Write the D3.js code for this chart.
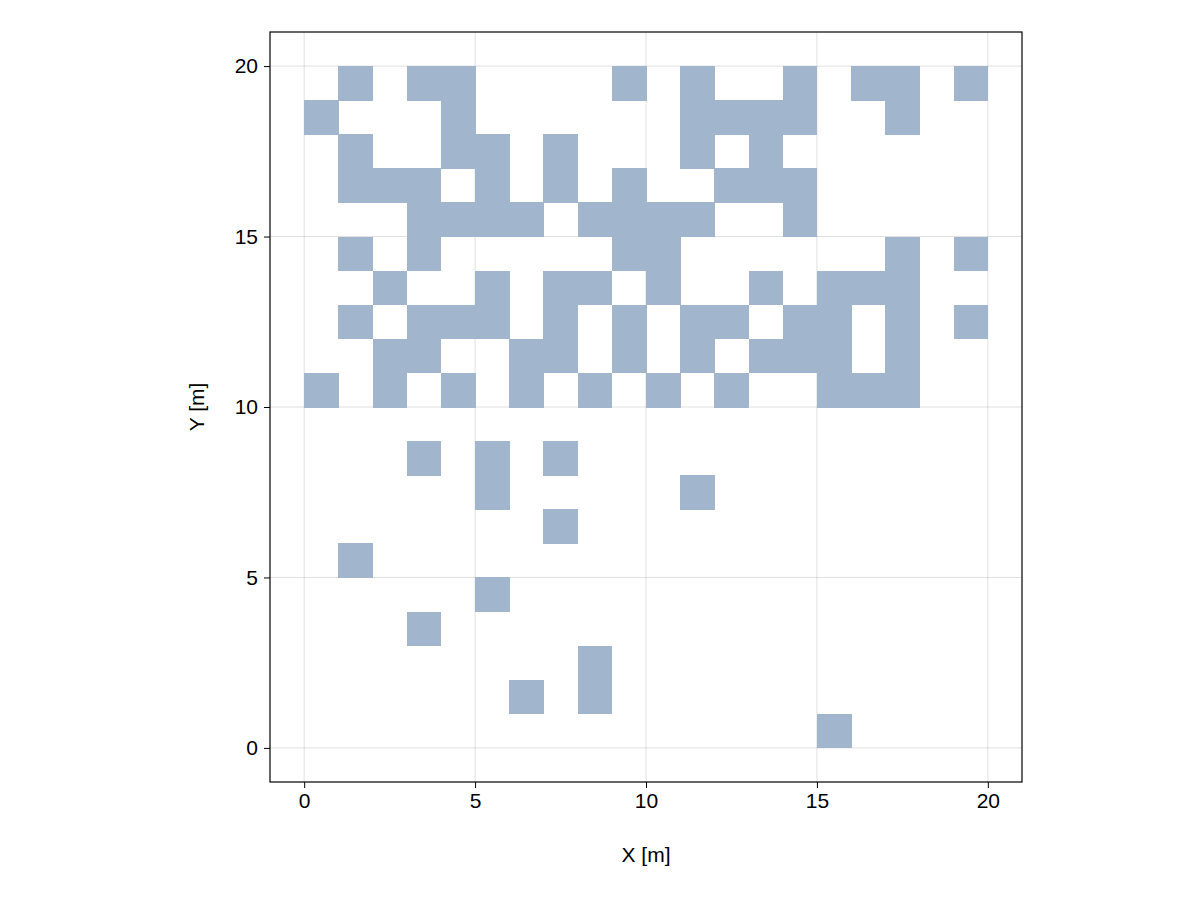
<!DOCTYPE html>
<html>
<head>
<meta charset="utf-8">
<script src="https://cdn.jsdelivr.net/npm/d3@7"></script>
<style>
  body { margin: 0; background: #fff; }
  text { font-family: "Liberation Sans", Arial, sans-serif; }
</style>
</head>
<body>
<svg id="chart" width="1200" height="900"></svg>
<script>
// filled cells per row: row y value -> list of x values (cell spans [x,x+1] x [y,y+1])
const rowY = [19, 18, 17, 16, 15, 14, 13, 12, 11, 10, 8, 7, 6, 5, 4, 3, 2, 1, 0];
const rowCells = [
    [1, 3, 4, 9, 11, 14, 16, 17, 19],
    [0, 4, 11, 12, 13, 14, 17],
    [1, 4, 5, 7, 11, 13],
    [1, 2, 3, 5, 7, 9, 12, 13, 14],
    [3, 4, 5, 6, 8, 9, 10, 11, 14],
    [1, 3, 9, 10, 17, 19],
    [2, 5, 7, 8, 10, 13, 15, 16, 17],
    [1, 3, 4, 5, 7, 9, 11, 12, 14, 15, 17, 19],
    [2, 3, 6, 7, 9, 11, 13, 14, 15, 17],
    [0, 2, 4, 6, 8, 10, 12, 15, 16, 17],
    [3, 5, 7],
    [5, 11],
    [7],
    [1],
    [5],
    [3],
    [8],
    [6, 8],
    [15]
];
const xTicks = [0, 5, 10, 15, 20];
const yTicks = [0, 5, 10, 15, 20];

const cells = [];
rowY.forEach((y, i) => rowCells[i].forEach(x => cells.push({ x, y })));

const margin = { left: 270, right: 178, top: 32, bottom: 118 };
const width = 1200 - margin.left - margin.right;
const height = 900 - margin.top - margin.bottom;

const svg = d3.select("#chart");
const g = svg.append("g").attr("transform", `translate(${margin.left},${margin.top})`);

const x = d3.scaleLinear().domain([-1, 21]).range([0, width]);
const y = d3.scaleLinear().domain([-1, 21]).range([height, 0]);

// grid
g.append("g").selectAll("line").data(xTicks).join("line")
    .attr("x1", d => x(d)).attr("x2", d => x(d))
    .attr("y1", 0).attr("y2", height)
    .attr("stroke", "#000").attr("stroke-opacity", 0.12);
g.append("g").selectAll("line").data(yTicks).join("line")
    .attr("y1", d => y(d)).attr("y2", d => y(d))
    .attr("x1", 0).attr("x2", width)
    .attr("stroke", "#000").attr("stroke-opacity", 0.12);

// cells
g.append("g").attr("shape-rendering", "crispEdges")
    .selectAll("rect").data(cells).join("rect")
    .attr("x", d => x(d.x))
    .attr("y", d => y(d.y + 1))
    .attr("width", d => x(d.x + 1) - x(d.x) + 0.5)
    .attr("height", d => y(d.y) - y(d.y + 1) + 0.5)
    .attr("fill", "#a1b6cd");

// frame
g.append("rect").attr("width", width).attr("height", height)
    .attr("fill", "none").attr("stroke", "#000").attr("stroke-width", 1.2);

const xAxis = g.append("g").attr("transform", `translate(0,${height})`)
    .call(d3.axisBottom(x).tickValues(xTicks).tickSize(6).tickPadding(5));
const yAxis = g.append("g")
    .call(d3.axisLeft(y).tickValues(yTicks).tickSize(6).tickPadding(6));
[xAxis, yAxis].forEach(a => {
    a.select(".domain").remove();
    a.selectAll("text").style("font-size", "21px").attr("fill", "#000")
        .style("font-family", "'Liberation Sans', Arial, sans-serif");
});

g.append("text").attr("x", width / 2).attr("y", height + 80)
    .attr("text-anchor", "middle").style("font-size", "21px").text("X [m]");
g.append("text").attr("transform", `translate(-66,${height / 2}) rotate(-90)`)
    .attr("text-anchor", "middle").style("font-size", "21px").text("Y [m]");
</script>
</body>
</html>
